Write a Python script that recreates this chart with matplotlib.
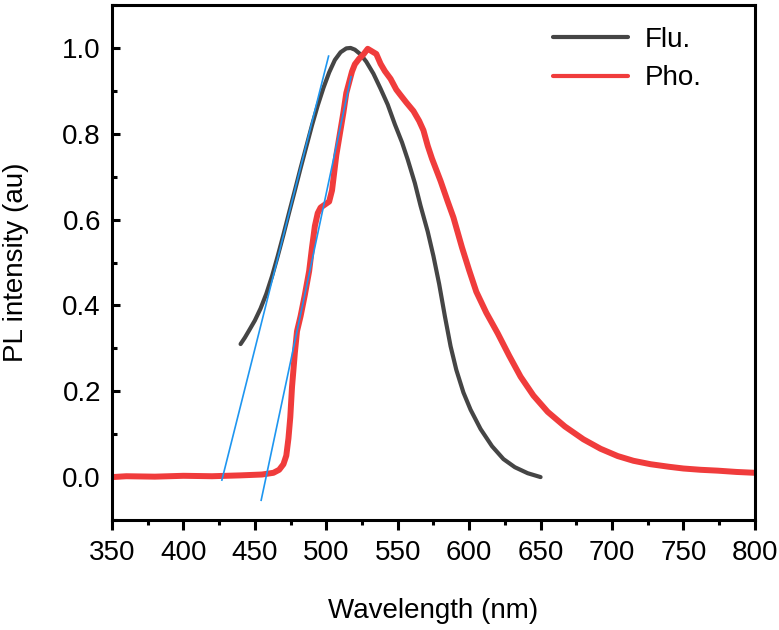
import numpy as np
import matplotlib
matplotlib.use("Agg")
import matplotlib.pyplot as plt
from matplotlib.ticker import MultipleLocator

# ---- data ----
flu_nm = [440, 443, 446, 450, 454, 458, 462, 466, 470, 474, 478, 482, 486,
          490, 494, 498, 502, 506, 510, 514, 517, 520, 524, 528, 533, 538,
          543, 548, 553, 557, 562, 566, 571, 575, 579, 583, 587, 591, 596,
          601, 608, 616, 624, 632, 641, 650]
flu_int = [0.31, 0.325, 0.342, 0.365, 0.393, 0.427, 0.468, 0.515, 0.565,
           0.617, 0.668, 0.72, 0.77, 0.82, 0.866, 0.907, 0.943, 0.972, 0.99,
           0.999, 1.0, 0.996, 0.985, 0.968, 0.94, 0.905, 0.868, 0.822, 0.78,
           0.74, 0.685, 0.632, 0.572, 0.515, 0.45, 0.375, 0.305, 0.25, 0.197,
           0.157, 0.112, 0.072, 0.042, 0.023, 0.009, 0.0]

pho_nm = [350, 360, 380, 400, 420, 440, 455, 463, 467, 470, 472, 473.5,
          474.8, 476, 477, 478, 479.5, 482, 485, 488, 490, 492, 494, 496,
          499, 502, 504, 507, 510, 512, 514, 516, 518, 520, 523, 526, 529,
          532, 535, 538, 541, 545, 549, 552, 556, 561, 565, 568, 571, 574,
          580, 585, 589, 595, 600, 605, 612, 620, 628, 636, 645, 655, 667,
          680, 692, 704, 715, 727, 740, 750, 762, 774, 787, 800]
pho_int = [0.0, 0.002, 0.001, 0.003, 0.002, 0.004, 0.006, 0.01, 0.017, 0.03,
           0.05, 0.09, 0.14, 0.21, 0.25, 0.29, 0.34, 0.375, 0.425, 0.48, 0.535,
           0.585, 0.615, 0.628, 0.635, 0.642, 0.668, 0.75, 0.81, 0.85, 0.895,
           0.92, 0.945, 0.962, 0.975, 0.985, 0.998, 0.992, 0.986, 0.963,
           0.946, 0.928, 0.903, 0.89, 0.873, 0.853, 0.83, 0.808, 0.772, 0.742,
           0.69, 0.642, 0.605, 0.535, 0.482, 0.432, 0.383, 0.335, 0.283,
           0.234, 0.19, 0.152, 0.118, 0.088, 0.066, 0.049, 0.038, 0.030,
           0.024, 0.020, 0.017, 0.015, 0.012, 0.010]

# onset tangent lines (end points)
tan1_nm = [426.9, 501.6]
tan1_int = [-0.007, 0.981]
tan2_nm = [454.4, 517.3]
tan2_int = [-0.054, 0.933]

plt.rcParams['font.family'] = ['Liberation Sans', 'DejaVu Sans']

fig = plt.figure(figsize=(7.79, 6.30), dpi=100)
ax = fig.add_axes([0.1438, 0.1746, 0.8252, 0.8174])

ax.plot(flu_nm, flu_int, color="#454545", lw=3.0, label="Flu.",
        solid_capstyle="round", solid_joinstyle="round")
ax.plot(pho_nm, pho_int, color="#F03C3C", lw=4.3, label="Pho.",
        solid_capstyle="round", solid_joinstyle="round")
ax.plot(tan1_nm, tan1_int, color="#1E96F0", lw=1.2)
ax.plot(tan2_nm, tan2_int, color="#1E96F0", lw=1.2)

ax.set_xlim(350, 800)
ax.set_ylim(-0.1, 1.1)
ax.xaxis.set_major_locator(MultipleLocator(50))
ax.xaxis.set_minor_locator(MultipleLocator(25))
ax.yaxis.set_major_locator(MultipleLocator(0.2))
ax.yaxis.set_minor_locator(MultipleLocator(0.1))
ax.yaxis.set_major_formatter(plt.FuncFormatter(lambda v, p: f"{v:.1f}"))

for s in ax.spines.values():
    s.set_linewidth(2.2)
ax.tick_params(axis="x", which="major", direction="out", length=7.5, width=2.2,
               labelsize=20, pad=7)
ax.tick_params(axis="x", which="minor", direction="out", length=3.5, width=2.2)
ax.tick_params(axis="y", which="major", direction="in", length=6, width=2.2,
               labelsize=20, pad=8)
ax.tick_params(axis="y", which="minor", direction="in", length=3.5, width=2.2)

ax.set_xlabel("Wavelength (nm)", fontsize=20, labelpad=23)
ax.set_ylabel("PL intensity (au)", fontsize=20, labelpad=24)

leg = ax.legend(loc="upper left", frameon=False, fontsize=20, handlelength=2.7,
                labelspacing=0.44, handletextpad=0.6, borderpad=0,
                borderaxespad=0, bbox_to_anchor=(0.686, 0.957))
for h in leg.get_lines():
    h.set_linewidth(3.0)

fig.savefig("out.png", dpi=100)
